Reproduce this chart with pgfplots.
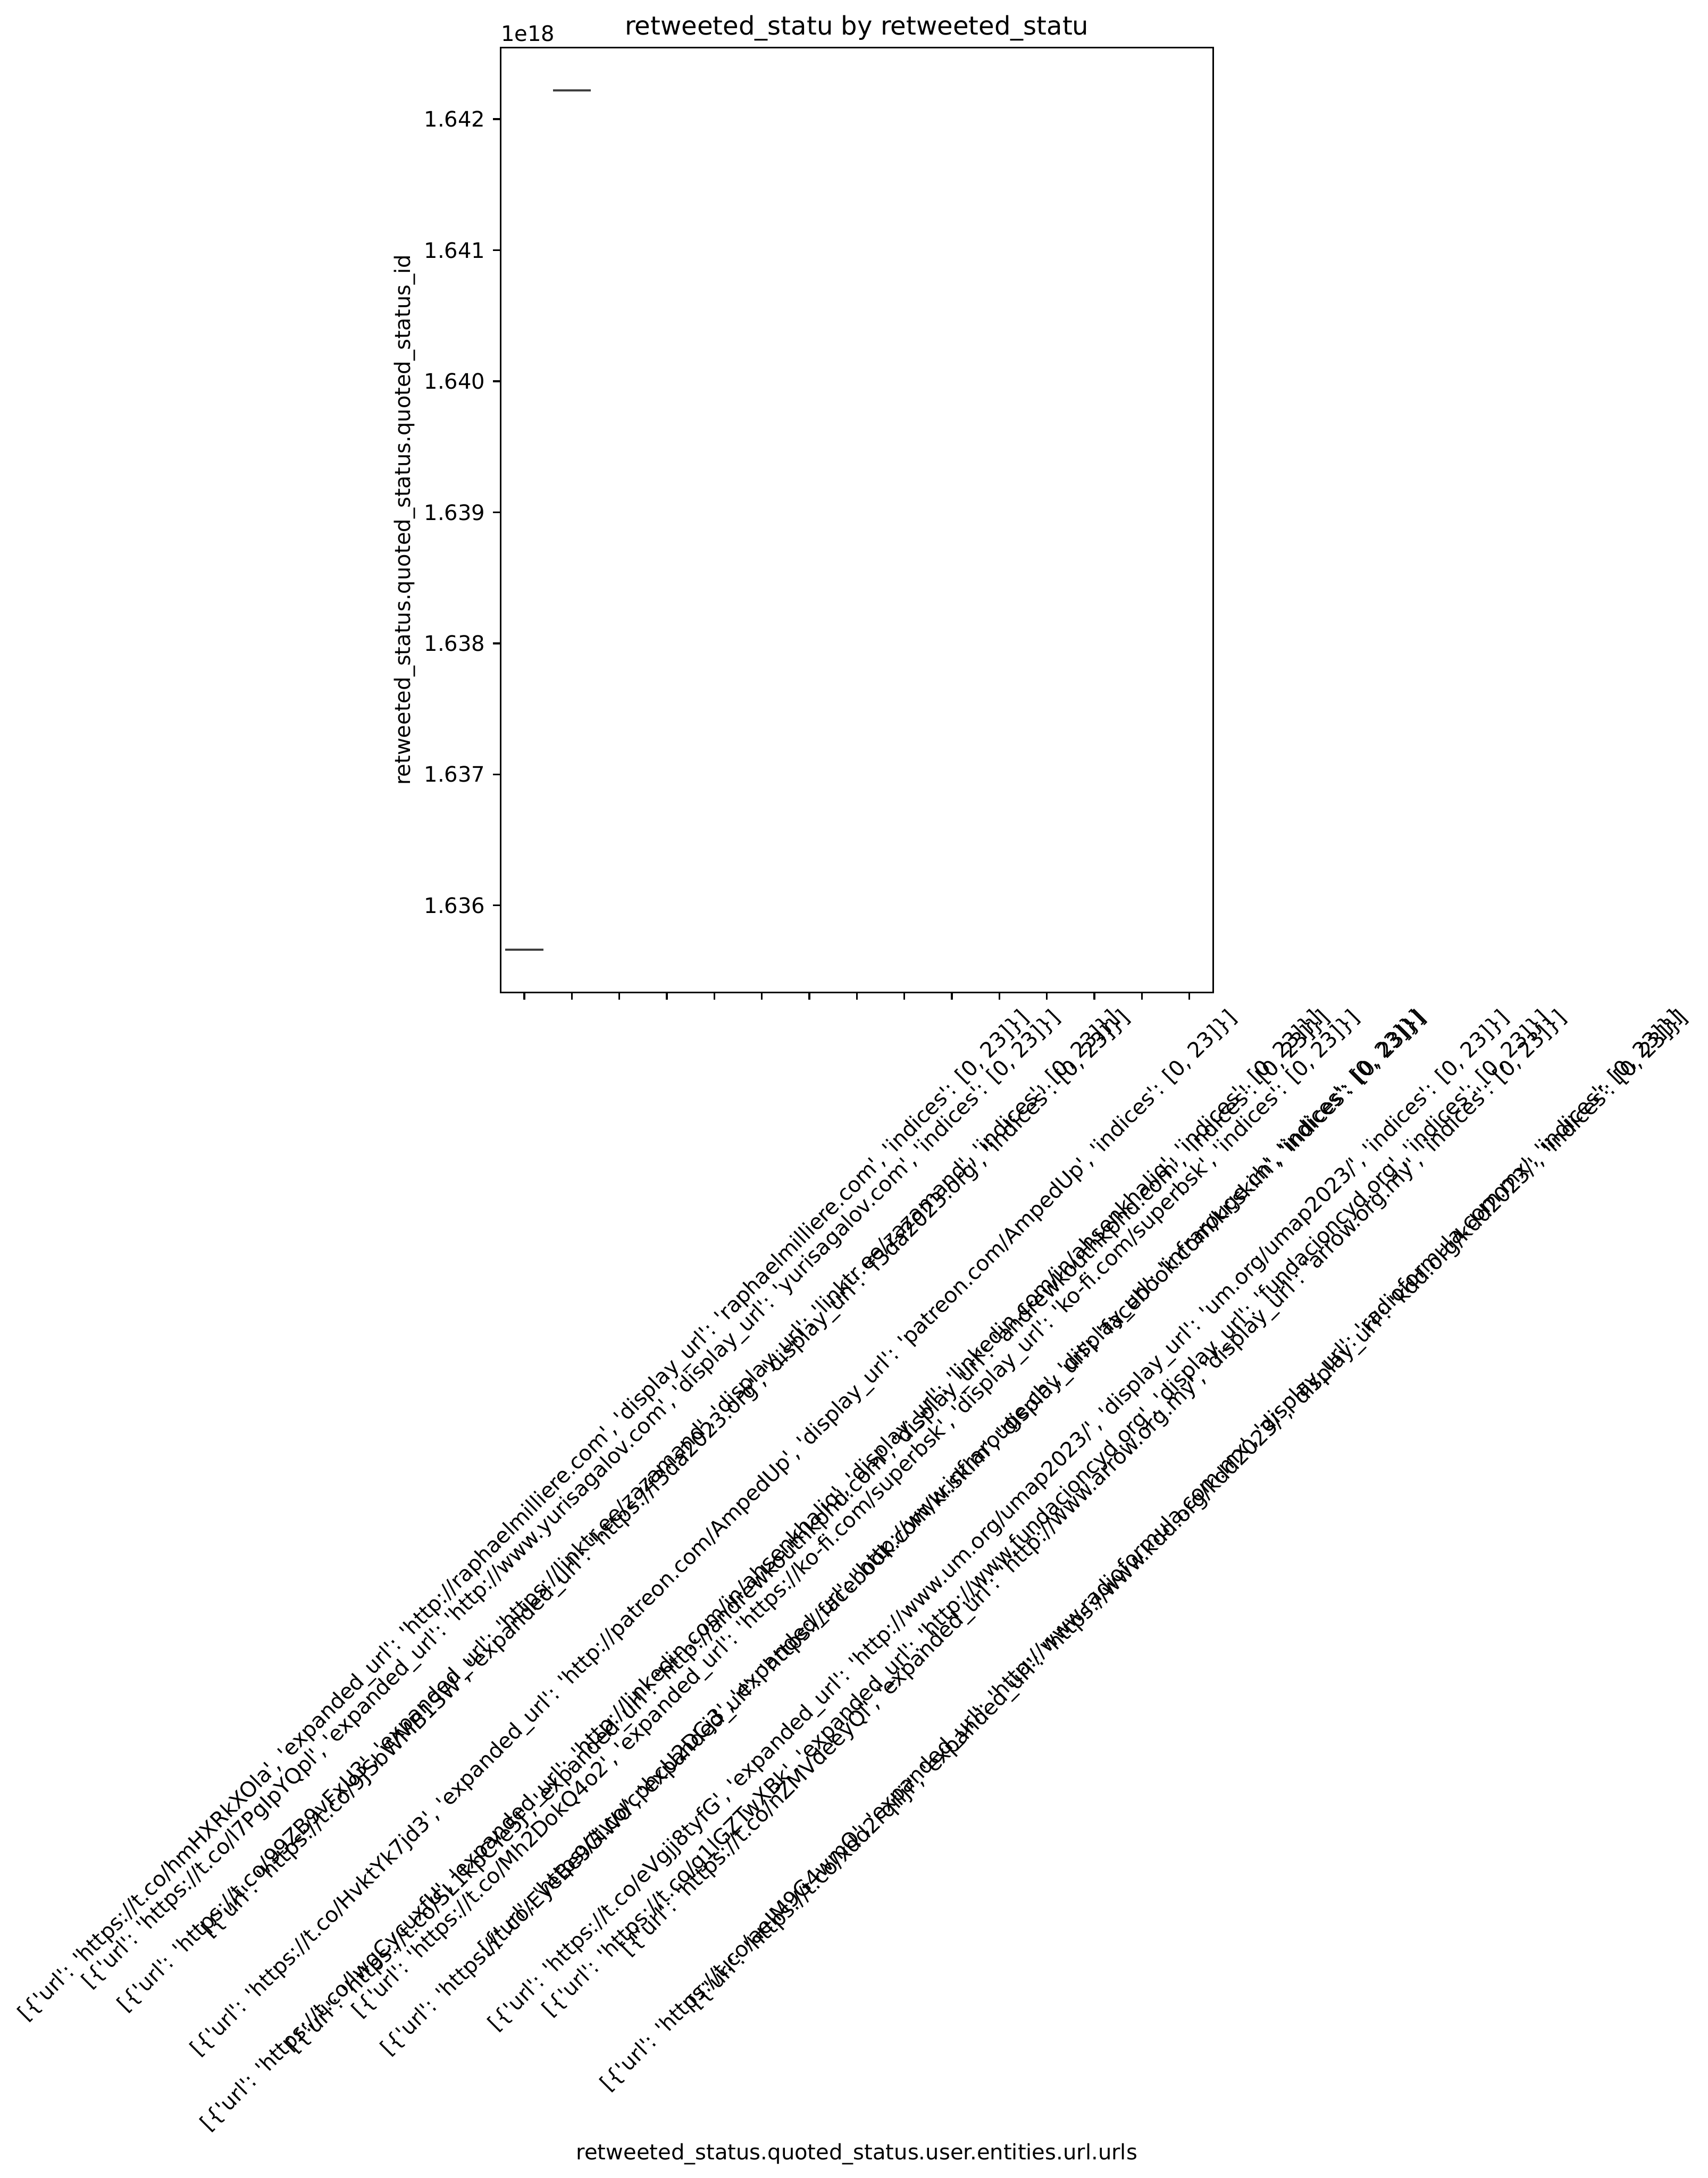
\documentclass[border=0pt]{standalone}
\usepackage{fontspec}
\setmainfont{DejaVu Sans}[Ligatures=TeXOff]
\usepackage{graphicx}
\usepackage{pgfplots}
\pgfplotsset{compat=1.18}
\newcommand{\tl}[1]{\rotatebox{45}{#1}}
\definecolor{boxgray}{RGB}{63,63,63}
\begin{document}
\begin{tikzpicture}
\begin{axis}[
  scale only axis,
  width=334.3pt, height=443.3pt,
  xmin=-0.5, xmax=14.5,
  ymin=1.635337, ymax=1.642546,
  axis line style={line width=0.8pt, black},
  tick style={line width=0.8pt, black},
  tick align=outside,
  major tick length=3.5pt,
  tick pos=left,
  font=\fontsize{10}{12}\selectfont,
  xtick={0,1,2,3,4,5,6,7,8,9,10,11,12,13,14},
  ytick={1.636,1.637,1.638,1.639,1.640,1.641,1.642},
  yticklabels={1.636,1.637,1.638,1.639,1.640,1.641,1.642},
  yticklabel style={anchor=east, inner sep=0pt, xshift=-3.5pt},
  xticklabel style={anchor=north, inner sep=0pt, yshift=-3.5pt},
  xticklabels={
    {\tl{[\{'url': 'https://t.co/hmHXRkXOla', 'expanded\_url': 'http://raphaelmilliere.com', 'display\_url': 'raphaelmilliere.com', 'indices': [0, 23]\}]}},
    {\tl{[\{'url': 'https://t.co/l7PgIpYQpl', 'expanded\_url': 'http://www.yurisagalov.com', 'display\_url': 'yurisagalov.com', 'indices': [0, 23]\}]}},
    {\tl{[\{'url': 'https://t.co/99ZB9vFxU3', 'expanded\_url': 'https://linktr.ee/zazamand', 'display\_url': 'linktr.ee/zazamand', 'indices': [0, 23]\}]}},
    {\tl{[\{'url': 'https://t.co/9JSbWMB1SW', 'expanded\_url': 'https://f3da2023.org', 'display\_url': 'f3da2023.org', 'indices': [0, 23]\}]}},
    {\tl{[\{'url': 'https://t.co/HvktYk7jd3', 'expanded\_url': 'http://patreon.com/AmpedUp', 'display\_url': 'patreon.com/AmpedUp', 'indices': [0, 23]\}]}},
    {\tl{[\{'url': 'https://t.co/lwgCycuxfU', 'expanded\_url': 'http://linkedin.com/in/ahsenkhaliq', 'display\_url': 'linkedin.com/in/ahsenkhaliq', 'indices': [0, 23]\}]}},
    {\tl{[\{'url': 'https://t.co/SL1kpCYe5J', 'expanded\_url': 'http://andrewkouthkphd.com', 'display\_url': 'andrewkouthkphd.com', 'indices': [0, 23]\}]}},
    {\tl{[\{'url': 'https://t.co/Mh2DokQ4o2', 'expanded\_url': 'https://ko-fi.com/superbsk', 'display\_url': 'ko-fi.com/superbsk', 'indices': [0, 23]\}]}},
    {\tl{[\{'url': 'https://t.co/EyeBe9GiWd', 'expanded\_url': 'https://facebook.com/kr.skim', 'display\_url': 'facebook.com/kr.skim', 'indices': [0, 23]\}]}},
    {\tl{[\{'url': 'https://t.co/cphcU2DCj3', 'expanded\_url': 'http://www.infrarouge.ch', 'display\_url': 'infrarouge.ch', 'indices': [0, 23]\}]}},
    {\tl{[\{'url': 'https://t.co/eVgjj8tyfG', 'expanded\_url': 'http://www.um.org/umap2023/', 'display\_url': 'um.org/umap2023/', 'indices': [0, 23]\}]}},
    {\tl{[\{'url': 'https://t.co/g1lGZTwXBk', 'expanded\_url': 'http://www.fundacioncyd.org', 'display\_url': 'fundacioncyd.org', 'indices': [0, 23]\}]}},
    {\tl{[\{'url': 'https://t.co/nZMVdeeyQl', 'expanded\_url': 'http://www.arrow.org.my', 'display\_url': 'arrow.org.my', 'indices': [0, 23]\}]}},
    {\tl{[\{'url': 'https://t.co/aeIM9G4wmQ', 'expanded\_url': 'http://www.radioformula.com.mx', 'display\_url': 'radioformula.com.mx', 'indices': [0, 23]\}]}},
    {\tl{[\{'url': 'https://t.co/xdd2rqrlji', 'expanded\_url': 'https://www.kdd.org/kdd2023/', 'display\_url': 'kdd.org/kdd2023/', 'indices': [0, 23]\}]}}
  },
  xlabel={retweeted\_status.quoted\_status.user.entities.url.urls},
  xlabel style={at={(rel axis cs:0.5,0)}, anchor=center, yshift=-545pt},
  ylabel={retweeted\_status.quoted\_status.quoted\_status\_id},
  ylabel style={at={(rel axis cs:0,0.5)}, anchor=center, yshift=45pt},
  clip=false,
]
\addplot[boxgray, line width=1pt] coordinates {(-0.4,1.635664) (0.4,1.635664)};
\addplot[boxgray, line width=1pt] coordinates {(0.6,1.642219) (1.4,1.642219)};
\node[anchor=base west, inner sep=0pt, font=\fontsize{10}{12}\selectfont] at (rel axis cs:0,1) [yshift=3pt] {1e18};
\node[anchor=base, inner sep=0pt, font=\fontsize{12}{14.4}\selectfont] at (rel axis cs:0.5,1) [yshift=6pt] {retweeted\_statu by retweeted\_statu};
\end{axis}
\path ([shift={(-7.2pt,-3pt)}]current bounding box.south west) ([shift={(7.2pt,7.2pt)}]current bounding box.north east);
\end{tikzpicture}
\end{document}
